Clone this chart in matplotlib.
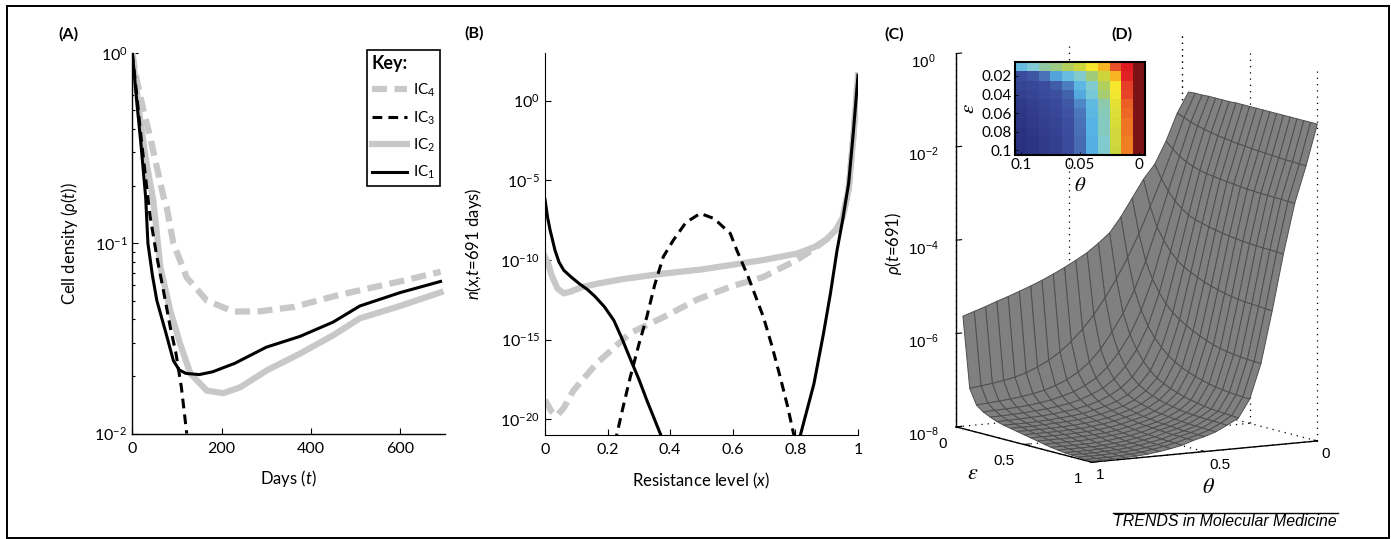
import numpy as np
import matplotlib
matplotlib.use("Agg")
import matplotlib.pyplot as plt
from matplotlib.lines import Line2D
from matplotlib.patches import Rectangle
from matplotlib.colors import LinearSegmentedColormap
from matplotlib.ticker import FixedLocator, FuncFormatter, LogLocator, NullFormatter

plt.rcParams['font.family'] = ['Lato', 'DejaVu Sans']
plt.rcParams['mathtext.fontset'] = 'custom'
plt.rcParams['mathtext.rm'] = 'Lato'
plt.rcParams['mathtext.it'] = 'Lato:italic'
plt.rcParams['mathtext.bf'] = 'Lato:bold'
plt.rcParams['mathtext.fallback'] = 'stixsans'

# ---------------- Panel A data: cell density vs days ----------------
t_ic1 = [0, 10, 20, 30, 35, 45, 55, 75, 92, 105, 120, 150, 180, 230, 300, 376, 450, 510, 600, 691]
rho_ic1 = [1.0, 0.56, 0.32, 0.174, 0.10, 0.068, 0.050, 0.034, 0.0242, 0.0216, 0.0207, 0.0204,
           0.0211, 0.0234, 0.0284, 0.0324, 0.0385, 0.0468, 0.055, 0.063]
t_ic2 = [0, 15, 30, 47, 63, 85, 107, 130, 167, 204, 242, 302, 376, 450, 510, 600, 691]
rho_ic2 = [1.0, 0.50, 0.28, 0.168, 0.075, 0.0444, 0.0297, 0.0207, 0.0168, 0.0163, 0.0175,
           0.0215, 0.0263, 0.0328, 0.0403, 0.0468, 0.0552]
t_ic3 = [0, 10, 20, 30, 40, 55, 70, 85, 98, 110, 122]
rho_ic3 = [1.0, 0.60, 0.355, 0.219, 0.138, 0.085, 0.056, 0.0363, 0.0263, 0.0175, 0.0100]
t_ic4 = [0, 10, 25, 40, 55, 70, 77, 92, 122, 167, 227, 286, 361, 450, 510, 600, 691]
rho_ic4 = [1.0, 0.72, 0.50, 0.363, 0.251, 0.175, 0.155, 0.100, 0.066, 0.050, 0.0437, 0.0439,
           0.0462, 0.0525, 0.0566, 0.063, 0.0708]

# ---------------- Panel B data: log10 n(x, t=691) ----------------
x_b1 = [0, 0.008, 0.016, 0.032, 0.045, 0.06, 0.085, 0.11, 0.135, 0.16, 0.19, 0.22, 0.245, 0.27,
        0.3, 0.325, 0.37, 0.42, 0.77, 0.816, 0.859, 0.89, 0.912, 0.933, 0.95, 0.97, 0.985, 1.0]
logn_b1 = [-6.2, -7.3, -8.1, -9.4, -10.15, -10.65, -11.1, -11.5, -11.85, -12.3, -12.95, -13.8,
           -14.9, -16.1, -17.5, -18.8, -21.0, -24.0, -24.0, -21.0, -17.8, -14.6, -12.1, -9.4,
           -7.6, -5.2, -2.0, 1.6]
x_b2 = [0, 0.01, 0.02, 0.04, 0.06, 0.08, 0.12, 0.165, 0.25, 0.378, 0.5, 0.59, 0.7, 0.805,
        0.86, 0.9, 0.93, 0.95, 0.97, 0.985, 1.0]
logn_b2 = [-9.8, -10.2, -10.9, -11.8, -12.1, -12.0, -11.7, -11.5, -11.2, -10.86, -10.6, -10.33,
           -10.0, -9.6, -9.2, -8.7, -8.1, -7.4, -5.6, -2.3, 1.6]
x_b3 = [0.215, 0.229, 0.25, 0.272, 0.3, 0.325, 0.35, 0.378, 0.41, 0.45, 0.496, 0.54, 0.592,
        0.613, 0.65, 0.698, 0.725, 0.752, 0.775, 0.795, 0.81]
logn_b3 = [-22.5, -21.0, -19.2, -17.4, -15.3, -13.6, -11.6, -9.8, -8.76, -7.65, -7.08, -7.4,
           -8.34, -9.4, -11.1, -13.6, -15.4, -17.4, -19.2, -21.0, -22.5]
x_b4 = [0, 0.02, 0.037, 0.06, 0.091, 0.165, 0.272, 0.378, 0.485, 0.59, 0.698, 0.805, 0.86,
        0.9, 0.93, 0.95, 0.97, 0.985, 1.0]
logn_b4 = [-18.8, -19.5, -19.8, -19.3, -18.2, -16.5, -14.6, -13.6, -12.5, -11.7, -11.07, -10.0,
           -9.3, -8.7, -8.1, -7.4, -5.6, -2.3, 1.6]

# ---------------- Panel C/D data: log10 rho(t=691) over (theta, eps) ----------------
theta_grid = [0, 0.05, 0.1, 0.15, 0.2, 0.25, 0.3, 0.35, 0.4, 0.45, 0.5, 0.55, 0.6, 0.65,
              0.7, 0.75, 0.8, 0.85, 0.9, 0.95, 1.0]
eps_grid = [0.05, 0.1, 0.15, 0.2, 0.25, 0.3, 0.35, 0.4, 0.45, 0.5, 0.55, 0.6, 0.65, 0.7,
            0.75, 0.8, 0.85, 0.9, 0.95, 1.0]
log_rho = [
    [-1.24, -1.67, -2.25, -2.72, -3.02, -3.40, -3.78, -4.10, -4.30, -4.48, -4.62, -4.75, -4.87, -4.98, -5.08, -5.17, -5.26, -5.34, -5.43, -5.51, -5.59],
    [-1.23, -1.73, -2.38, -3.00, -3.57, -4.13, -4.62, -5.05, -5.43, -5.77, -6.06, -6.30, -6.50, -6.66, -6.78, -6.88, -6.95, -7.00, -7.04, -7.07, -7.10],
    [-1.23, -1.79, -2.50, -3.22, -3.97, -4.68, -5.27, -5.75, -6.13, -6.47, -6.73, -6.92, -7.06, -7.16, -7.24, -7.29, -7.33, -7.36, -7.38, -7.40, -7.42],
    [-1.22, -1.83, -2.58, -3.40, -4.22, -5.03, -5.67, -6.17, -6.53, -6.82, -7.03, -7.17, -7.28, -7.35, -7.41, -7.45, -7.48, -7.50, -7.51, -7.52, -7.53],
    [-1.22, -1.87, -2.64, -3.52, -4.42, -5.28, -5.97, -6.45, -6.79, -7.04, -7.21, -7.32, -7.41, -7.47, -7.51, -7.54, -7.56, -7.58, -7.59, -7.60, -7.60],
    [-1.22, -1.90, -2.69, -3.62, -4.57, -5.48, -6.19, -6.67, -6.98, -7.19, -7.33, -7.43, -7.50, -7.55, -7.58, -7.61, -7.63, -7.64, -7.65, -7.66, -7.66],
    [-1.22, -1.93, -2.72, -3.68, -4.67, -5.63, -6.35, -6.83, -7.11, -7.30, -7.42, -7.50, -7.56, -7.61, -7.64, -7.66, -7.68, -7.69, -7.70, -7.70, -7.70],
    [-1.21, -1.95, -2.74, -3.72, -4.75, -5.74, -6.49, -6.95, -7.20, -7.37, -7.48, -7.55, -7.61, -7.65, -7.68, -7.70, -7.71, -7.72, -7.73, -7.73, -7.73],
    [-1.21, -1.97, -2.76, -3.76, -4.82, -5.83, -6.59, -7.03, -7.27, -7.42, -7.52, -7.59, -7.65, -7.69, -7.72, -7.74, -7.75, -7.76, -7.76, -7.76, -7.76],
    [-1.21, -1.99, -2.78, -3.79, -4.88, -5.91, -6.67, -7.10, -7.32, -7.46, -7.56, -7.62, -7.68, -7.72, -7.75, -7.77, -7.78, -7.79, -7.79, -7.79, -7.79],
    [-1.21, -2.00, -2.79, -3.82, -4.93, -5.98, -6.73, -7.15, -7.36, -7.50, -7.59, -7.65, -7.71, -7.75, -7.78, -7.80, -7.81, -7.82, -7.82, -7.82, -7.82],
    [-1.21, -2.02, -2.81, -3.84, -4.97, -6.04, -6.79, -7.20, -7.39, -7.52, -7.61, -7.67, -7.73, -7.78, -7.81, -7.83, -7.84, -7.85, -7.85, -7.85, -7.85],
    [-1.21, -2.03, -2.82, -3.86, -5.01, -6.09, -6.83, -7.23, -7.42, -7.54, -7.63, -7.69, -7.75, -7.80, -7.83, -7.85, -7.87, -7.88, -7.88, -7.88, -7.88],
    [-1.21, -2.04, -2.83, -3.88, -5.04, -6.13, -6.87, -7.26, -7.44, -7.56, -7.64, -7.70, -7.77, -7.82, -7.85, -7.88, -7.90, -7.91, -7.91, -7.91, -7.91],
    [-1.21, -2.05, -2.84, -3.89, -5.06, -6.16, -6.90, -7.29, -7.45, -7.57, -7.65, -7.71, -7.78, -7.83, -7.87, -7.90, -7.92, -7.93, -7.93, -7.93, -7.93],
    [-1.21, -2.06, -2.84, -3.90, -5.08, -6.18, -6.92, -7.31, -7.46, -7.58, -7.66, -7.72, -7.79, -7.84, -7.88, -7.91, -7.93, -7.94, -7.95, -7.95, -7.95],
    [-1.21, -2.07, -2.85, -3.91, -5.09, -6.20, -6.94, -7.32, -7.47, -7.59, -7.67, -7.73, -7.80, -7.85, -7.89, -7.92, -7.94, -7.95, -7.96, -7.96, -7.96],
    [-1.21, -2.07, -2.85, -3.91, -5.10, -6.21, -6.95, -7.33, -7.47, -7.59, -7.67, -7.73, -7.81, -7.86, -7.90, -7.93, -7.95, -7.96, -7.97, -7.97, -7.97],
    [-1.21, -2.08, -2.86, -3.92, -5.11, -6.22, -6.96, -7.34, -7.48, -7.60, -7.68, -7.74, -7.81, -7.86, -7.90, -7.94, -7.96, -7.97, -7.98, -7.98, -7.98],
    [-1.21, -2.08, -2.86, -3.92, -5.12, -6.23, -6.97, -7.35, -7.48, -7.60, -7.68, -7.74, -7.82, -7.87, -7.91, -7.94, -7.96, -7.97, -7.98, -7.98, -7.98],
]
theta_ticks = [0, 0.5, 1]
eps_ticks = [0, 0.5, 1]
z_ticks = [-8, -6, -4, -2, 0]

# ---------------- Inset heatmap (colour level, theta 0.1 -> 0, eps 0.01 -> 0.1) ----------------
heat_theta = [0.1, 0.09, 0.08, 0.07, 0.06, 0.05, 0.04, 0.03, 0.02, 0.01, 0.0]
heat_eps = [0.01, 0.02, 0.03, 0.04, 0.05, 0.06, 0.07, 0.08, 0.09, 0.1]
heat_vals = [
    [0.40, 0.45, 0.50, 0.53, 0.57, 0.61, 0.68, 0.74, 0.83, 0.90, 1.00],
    [0.13, 0.16, 0.25, 0.34, 0.40, 0.46, 0.54, 0.61, 0.74, 0.89, 1.00],
    [0.10, 0.11, 0.13, 0.18, 0.27, 0.38, 0.46, 0.57, 0.68, 0.85, 1.00],
    [0.08, 0.10, 0.12, 0.14, 0.20, 0.35, 0.44, 0.55, 0.67, 0.84, 1.00],
    [0.06, 0.08, 0.10, 0.12, 0.17, 0.29, 0.39, 0.49, 0.65, 0.82, 1.00],
    [0.05, 0.07, 0.09, 0.11, 0.15, 0.26, 0.38, 0.48, 0.64, 0.81, 1.00],
    [0.04, 0.06, 0.08, 0.10, 0.14, 0.25, 0.37, 0.47, 0.63, 0.80, 1.00],
    [0.03, 0.05, 0.07, 0.09, 0.13, 0.24, 0.37, 0.47, 0.62, 0.80, 1.00],
    [0.03, 0.04, 0.06, 0.08, 0.12, 0.23, 0.36, 0.46, 0.62, 0.79, 1.00],
    [0.02, 0.04, 0.06, 0.08, 0.12, 0.23, 0.36, 0.46, 0.61, 0.79, 1.00],
]

GRAY = '#c8c8c8'
W, H = 1391, 539
fig = plt.figure(figsize=(W / 100, H / 100), dpi=100)


def fx(px):
    return px / W


def fy(py):
    return 1 - py / H


def pow10(v, pos=None):
    return r'$\mathregular{10^{%d}}$' % int(round(np.log10(v)))


TICK_FS = 11.5
LAB_FS = 12

# ---------------- Panel A ----------------
axA = fig.add_axes([fx(132.3), fy(433.5), fx(444.6) - fx(132.3), fy(53) - fy(433.5)])
axA.plot(t_ic4, rho_ic4, color=GRAY, lw=4.5, dashes=(2.4, 1.2), solid_capstyle='butt')
axA.plot(t_ic2, rho_ic2, color=GRAY, lw=4.5)
axA.plot(t_ic3, rho_ic3, color='black', lw=2.2, dashes=(3.2, 2.0))
axA.plot(t_ic1, rho_ic1, color='black', lw=2.2)
axA.set_yscale('log')
axA.set_xlim(0, 700)
axA.set_ylim(1e-2, 1)
axA.set_xticks([0, 200, 400, 600])
axA.yaxis.set_major_locator(FixedLocator([1e-2, 1e-1, 1]))
axA.yaxis.set_major_formatter(FuncFormatter(pow10))
axA.yaxis.set_minor_locator(LogLocator(base=10, subs=np.arange(2, 10)))
axA.yaxis.set_minor_formatter(NullFormatter())
for s in ('top', 'right'):
    axA.spines[s].set_visible(False)
for s in ('left', 'bottom'):
    axA.spines[s].set_linewidth(1.0)
axA.tick_params(which='both', direction='in', labelsize=TICK_FS, width=0.8)
axA.tick_params(which='major', length=4)
axA.tick_params(which='minor', length=2.5)
axA.tick_params(axis='x', pad=6)
axA.set_xlabel('Days ($t$)', fontsize=LAB_FS, labelpad=9)
axA.set_ylabel(r'Cell density ($\rho$($t$))', fontsize=LAB_FS)
axA.yaxis.set_label_coords((80 - 132.3) / 312.3, 0.5)

handles = [
    Line2D([], [], color=GRAY, lw=4.5, dashes=(2.4, 1.2)),
    Line2D([], [], color='black', lw=2.2, dashes=(3.2, 2.0)),
    Line2D([], [], color=GRAY, lw=4.5),
    Line2D([], [], color='black', lw=2.2),
]
labels = ['IC$_4$', 'IC$_3$', 'IC$_2$', 'IC$_1$']
leg = axA.legend(handles, labels, title='Key:', loc='upper right', bbox_to_anchor=(0.985, 1.008),
                 frameon=True, fancybox=False, edgecolor='black', framealpha=1,
                 handlelength=2.3, fontsize=11, title_fontproperties={'weight': 'bold', 'size': 13},
                 alignment='left', borderpad=0.3, labelspacing=0.66, handletextpad=0.4,
                 borderaxespad=0)
leg.get_frame().set_linewidth(1.2)

# ---------------- Panel B ----------------
axB = fig.add_axes([fx(545), fy(435), fx(858) - fx(545), fy(53) - fy(435)])
axB.plot(x_b4, 10.0 ** np.array(logn_b4), color=GRAY, lw=4.5, dashes=(2.4, 1.2))
axB.plot(x_b2, 10.0 ** np.array(logn_b2), color=GRAY, lw=4.5)
axB.plot(x_b3, 10.0 ** np.array(logn_b3), color='black', lw=2.2, dashes=(3.2, 2.0))
axB.plot(x_b1, 10.0 ** np.array(logn_b1), color='black', lw=2.2)
axB.set_yscale('log')
axB.set_xlim(0, 1)
axB.set_ylim(1e-21, 1e3)
axB.set_xticks([0, 0.2, 0.4, 0.6, 0.8, 1.0])
axB.set_xticklabels(['0', '0.2', '0.4', '0.6', '0.8', '1'])
axB.yaxis.set_major_locator(FixedLocator([1e-20, 1e-15, 1e-10, 1e-5, 1e0]))
axB.yaxis.set_major_formatter(FuncFormatter(pow10))
axB.yaxis.set_minor_locator(FixedLocator([]))
for s in ('top', 'right'):
    axB.spines[s].set_visible(False)
axB.tick_params(which='both', direction='in', labelsize=TICK_FS, length=4, width=0.8)
axB.tick_params(axis='x', pad=6)
axB.set_xlabel('Resistance level ($x$)', fontsize=LAB_FS, labelpad=10)
axB.set_ylabel('$n$($x$,$t$=691 days)', fontsize=LAB_FS)
axB.yaxis.set_label_coords((484 - 545) / 313, 0.5)

# ---------------- Panel C/D: 3D surface ----------------
ax3 = fig.add_axes([fx(869.5), fy(504), fx(1390.5) - fx(869.5), fy(4) - fy(504)],
                   projection='3d', computed_zorder=False)
ax3.set_facecolor('none')
ax3.set_proj_type('ortho')
ax3.view_init(elev=9, azim=59)
ax3.set_box_aspect((1, 1, 1.436), zoom=1.03)
TH, EP = np.meshgrid(theta_grid, eps_grid)
Z = np.array(log_rho)
zmin, zmax = z_ticks[0], z_ticks[-1]
dot = dict(color='black', lw=0.9, ls=(0, (1, 4)), zorder=1)
for th in theta_ticks:
    ax3.plot([th, th], [0, 0], [zmin, zmax], **dot)
    ax3.plot([th, th], [0, 1], [zmin, zmin], **dot)
for ep in eps_ticks:
    ax3.plot([0, 0], [ep, ep], [zmin, zmax], **dot)
    ax3.plot([0, 1], [ep, ep], [zmin, zmin], **dot)
ax3.plot_surface(TH, EP, Z, color='#808080', edgecolor='#4f4f4f', linewidth=0.7,
                 shade=False, rstride=1, cstride=1, antialiased=True, zorder=5)
ax3.set_xlim(0, 1)
ax3.set_ylim(0, 1)
ax3.set_zlim(zmin, zmax)
ax3.set_xticks(theta_ticks)
ax3.set_xticklabels(['0', '0.5', '1'])
ax3.set_yticks(eps_ticks)
ax3.set_yticklabels(['0', '0.5', '1'])
ax3.set_zticks(z_ticks)
ax3.set_zticklabels([r'$\mathregular{10^{%d}}$' % z for z in z_ticks])
ax3.grid(False)
for axis in (ax3.xaxis, ax3.yaxis, ax3.zaxis):
    axis.set_pane_color((1, 1, 1, 0))
    axis.pane.set_edgecolor('none')
    axis._axinfo['tick']['inward_factor'] = 0.0
    axis._axinfo['tick']['outward_factor'] = 0.3
    axis.line.set_linewidth(1.0)
    for lbl in axis.get_ticklabels():
        lbl.set_family(['Liberation Sans'])
        lbl.set_fontsize(11)
for lbl in ax3.xaxis.get_ticklabels():
    lbl.set_ha('left')
    lbl.set_va('center')
for lbl in ax3.yaxis.get_ticklabels():
    lbl.set_ha('right')
    lbl.set_va('center')
ax3.tick_params(axis='x', pad=-2)
ax3.tick_params(axis='y', pad=0)
ax3.tick_params(axis='z', pad=9)

fig.text(fx(893), fy(243), r'$\rho$($t$=691)', rotation=90, ha='center', va='center', fontsize=LAB_FS)
fig.text(fx(973), fy(473), r'$\varepsilon$', ha='center', va='center', fontsize=16, math_fontfamily='stix')
fig.text(fx(1208), fy(487), r'$\theta$', ha='center', va='center', fontsize=16, math_fontfamily='stix')

# ---------------- Inset heatmap ----------------
cols = ['#262b78', '#3a4a9c', '#4a72b8', '#57b5e6', '#7fcbd6', '#96c98f', '#c5d33f',
        '#f7ea2f', '#f7a51e', '#e8462a', '#e01a22', '#7d1315']
stops = [0, 0.12, 0.25, 0.37, 0.45, 0.52, 0.60, 0.68, 0.76, 0.84, 0.90, 1.0]
cmap = LinearSegmentedColormap.from_list('fadedjet', list(zip(stops, cols)))
axI = fig.add_axes([fx(1015), fy(155), fx(1145) - fx(1015), fy(62) - fy(155)])
dth = 0.005
dep = 0.005
axI.imshow(heat_vals, cmap=cmap, vmin=0, vmax=1, aspect='auto', interpolation='nearest',
           extent=[heat_theta[0] + dth, heat_theta[-1] - dth, heat_eps[-1] + dep, heat_eps[0] - dep])
axI.set_xticks([0.1, 0.05, 0.0])
axI.set_xticklabels(['0.1', '0.05', '0'])
axI.set_yticks([0.02, 0.04, 0.06, 0.08, 0.1])
axI.set_yticklabels(['0.02', '0.04', '0.06', '0.08', '0.1'])
axI.tick_params(direction='in', length=2.5, width=0.6, labelsize=11, pad=2)
for s in axI.spines.values():
    s.set_linewidth(1.5)
axI.set_xlabel(r'$\theta$', fontsize=15, math_fontfamily='stix', labelpad=2)
axI.set_ylabel(r'$\varepsilon$', fontsize=15, math_fontfamily='stix', labelpad=3)

# ---------------- Panel letters, frame, credit ----------------
for txt, px, py in [('(A)', 68, 34), ('(B)', 474, 33), ('(C)', 894, 34), ('(D)', 1122, 34)]:
    fig.text(fx(px), fy(py), txt, ha='center', va='center', fontsize=11.5, fontweight='bold')

fig.add_artist(Rectangle((fx(7), fy(538)), fx(1389) - fx(7), fy(6) - fy(538),
                         transform=fig.transFigure, fill=False, edgecolor='black', lw=1.4))
fig.add_artist(Line2D([fx(1113), fx(1338)], [fy(513), fy(513)], transform=fig.transFigure,
                      color='black', lw=1.0))
fig.text(fx(1337), fy(522), 'TRENDS in Molecular Medicine', ha='right', va='center',
         style='italic', family=['Liberation Sans'], fontsize=11.4)

fig.savefig('out.png', dpi=100)
